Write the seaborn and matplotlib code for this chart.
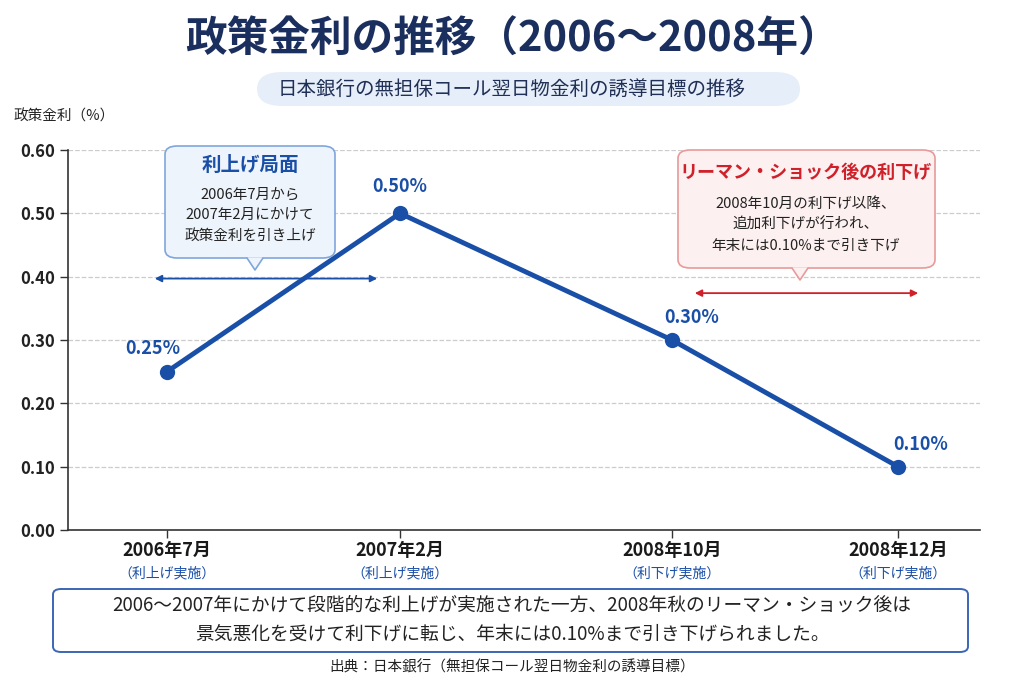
import numpy as np
import matplotlib.pyplot as plt
import seaborn as sns
import pandas as pd
from matplotlib.patches import FancyBboxPatch, Polygon

# data
periods = ['2006年7月', '2007年2月', '2008年10月', '2008年12月']
actions = ['（利上げ実施）', '（利上げ実施）', '（利下げ実施）', '（利下げ実施）']
rates = [0.25, 0.50, 0.30, 0.10]
x_pos = [167, 400, 672, 898]   # category positions along the axis
y_ticks = [0.00, 0.10, 0.20, 0.30, 0.40, 0.50, 0.60]

sns.set_theme(style='white')
plt.rcParams['font.family'] = ['Noto Sans CJK JP', 'DejaVu Sans']

W, H = 1024, 683
fig = plt.figure(figsize=(W / 100, H / 100), dpi=100)
fig.patch.set_facecolor('white')
ax = fig.add_axes([68 / W, 1 - 530 / H, 912 / W, 380 / H])

BLUE = '#1a4fa8'
NAVY = '#1b2f5e'
RED = '#d0202a'

df = pd.DataFrame({'x': x_pos, 'rate': rates})
sns.lineplot(data=df, x='x', y='rate', ax=ax, color=BLUE, lw=3.5,
             marker='o', markersize=11, markeredgewidth=0)
ax.set_xlim(68, 980)
ax.set_ylim(0, 0.6)
ax.set_yticks(y_ticks)
ax.set_yticklabels([f'{v:.2f}' for v in y_ticks], fontsize=12, fontweight='bold', color='#222222')
ax.set_xticks(x_pos)
ax.set_xticklabels([])
ax.tick_params(axis='both', length=6, width=1, color='#333333', direction='out', left=True, bottom=True)
ax.yaxis.grid(True, ls='--', color='#cccccc', lw=0.9)
for s in ['top', 'right']:
    ax.spines[s].set_visible(False)
for s in ['left', 'bottom']:
    ax.spines[s].set_color('#333333')
    ax.spines[s].set_linewidth(1.2)
ax.set_xlabel('')
ax.set_ylabel('')

# value labels
offsets = [(-10, 17), (0, 19), (14, 16), (16, 16)]
for x, r, (dx, dy) in zip(x_pos, rates, offsets):
    ax.annotate(f'{r:.2f}%', (x, r), xytext=(dx, dy), textcoords='offset points',
                ha='center', va='center', fontsize=13, fontweight='bold', color=BLUE)

# x category labels
for x, p, a in zip(x_pos, periods, actions):
    ax.text(x, -0.033, p, ha='center', va='center', fontsize=13, fontweight='bold', color='#1a1a1a')
    ax.text(x, -0.068, a, ha='center', va='center', fontsize=10, color=BLUE)

# range arrows
ax.annotate('', xy=(152, 0.397), xytext=(380, 0.397),
            arrowprops=dict(arrowstyle='<|-|>', color=BLUE, lw=1.3, mutation_scale=10))
ax.annotate('', xy=(692, 0.374), xytext=(921, 0.374),
            arrowprops=dict(arrowstyle='<|-|>', color=RED, lw=1.3, mutation_scale=10))


def fx(px):
    return px / W


def fy(py):
    return 1 - py / H


def callout(x0, y0, x1, y1, tip_x, face, edge):
    box = FancyBboxPatch((fx(x0), fy(y1)), fx(x1 - x0), (y1 - y0) / H,
                         boxstyle='round,pad=0,rounding_size=0.012',
                         transform=fig.transFigure, fc=face, ec=edge, lw=1.2, zorder=5)
    fig.add_artist(box)
    tri = Polygon([[fx(tip_x - 8), fy(y1) + 0.001], [fx(tip_x + 8), fy(y1) + 0.001],
                   [fx(tip_x), fy(y1 + 12)]], closed=True, transform=fig.transFigure,
                  fc=face, ec='none', zorder=6)
    fig.add_artist(tri)
    fig.add_artist(plt.Line2D([fx(tip_x - 8), fx(tip_x), fx(tip_x + 8)],
                              [fy(y1), fy(y1 + 12), fy(y1)], transform=fig.transFigure,
                              color=edge, lw=1.2, zorder=6))


callout(165, 146, 335, 258, 255, '#eef4fc', '#7fa6dc')
fig.text(fx(250), fy(165), '利上げ局面', ha='center', va='center', fontsize=14,
         fontweight='bold', color=BLUE, zorder=7)
fig.text(fx(250), fy(215), '2006年7月から\n2007年2月にかけて\n政策金利を引き上げ',
         ha='center', va='center', fontsize=10.5, color='#222222', linespacing=1.6, zorder=7)

callout(678, 150, 935, 268, 800, '#fdf0f0', '#e89a9a')
fig.text(fx(806), fy(172), 'リーマン・ショック後の利下げ', ha='center', va='center',
         fontsize=13, fontweight='bold', color=RED, zorder=7)
fig.text(fx(806), fy(225), '2008年10月の利下げ以降、\n追加利下げが行われ、\n年末には0.10%まで引き下げ',
         ha='center', va='center', fontsize=10.5, color='#222222', linespacing=1.6, zorder=7)

# titles
fig.text(0.5, fy(40), '政策金利の推移（2006～2008年）', ha='center', va='center',
         fontsize=30, fontweight='bold', color=NAVY)
pill = FancyBboxPatch((fx(257), fy(106)), fx(543), 34 / H,
                      boxstyle='round,pad=0,rounding_size=0.025', transform=fig.transFigure,
                      fc='#e6eef9', ec='none')
fig.add_artist(pill)
fig.text(0.5, fy(89), '日本銀行の無担保コール翌日物金利の誘導目標の推移', ha='center', va='center',
         fontsize=14, color='#1f2f55')
fig.text(fx(14), fy(117), '政策金利（%）', ha='left', va='center', fontsize=10.5, color='#222222')

# summary box
sbox = FancyBboxPatch((fx(53), fy(652)), fx(915), 63 / H,
                      boxstyle='round,pad=0,rounding_size=0.008', transform=fig.transFigure,
                      fc='white', ec='#3a66b5', lw=1.4)
fig.add_artist(sbox)
fig.text(0.5, fy(620), '2006～2007年にかけて段階的な利上げが実施された一方、2008年秋のリーマン・ショック後は\n'
         '景気悪化を受けて利下げに転じ、年末には0.10%まで引き下げられました。',
         ha='center', va='center', fontsize=13.5, color='#222222', linespacing=1.5)
fig.text(0.5, fy(667), '出典：日本銀行（無担保コール翌日物金利の誘導目標）', ha='center', va='center',
         fontsize=10.5, color='#222222')

plt.savefig('out.png', dpi=100)
